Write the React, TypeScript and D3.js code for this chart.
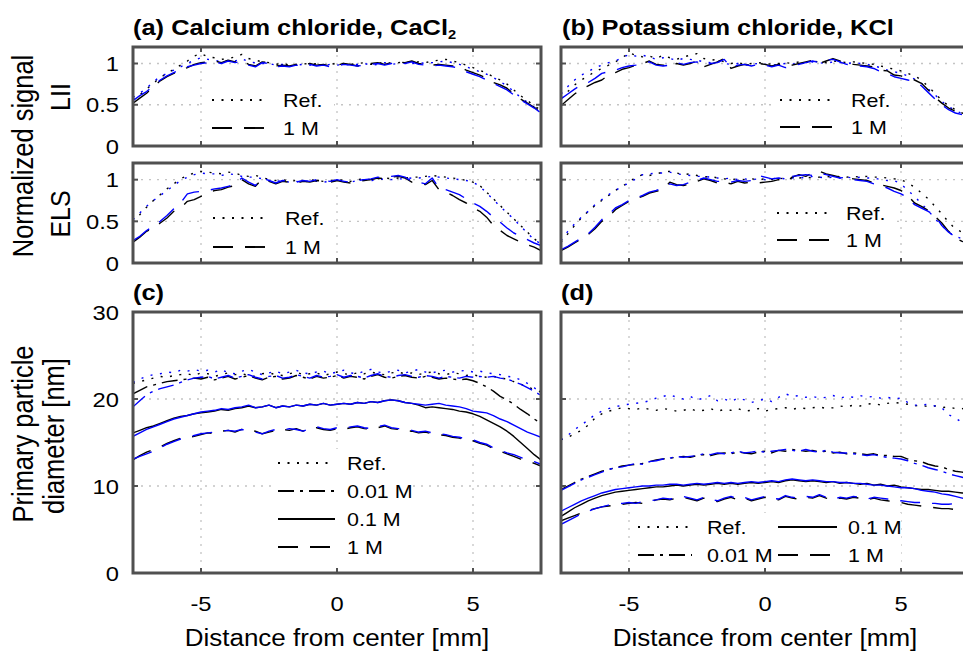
import React from 'react';
import * as d3 from 'd3';

// ---------- sample positions (mm from center) ----------
const POS_MM = [
  -7.5, -7.25, -7, -6.75, -6.5, -6.25, -6, -5.75, -5.5, -5.25,
  -5, -4.75, -4.5, -4.25, -4, -3.75, -3.5, -3.25, -3, -2.75,
  -2.5, -2.25, -2, -1.75, -1.5, -1.25, -1, -0.75, -0.5, -0.25,
  0, 0.25, 0.5, 0.75, 1, 1.25, 1.5, 1.75, 2, 2.25,
  2.5, 2.75, 3, 3.25, 3.5, 3.75, 4, 4.25, 4.5, 4.75,
  5, 5.25, 5.5, 5.75, 6, 6.25, 6.5, 6.75, 7, 7.25, 7.5,
];

// ---------- (a) CaCl2, LII ----------
const A_LII_REF_K = [0.56,0.62,0.69,0.76,0.83,0.88,0.93,0.98,1.03,1.09,1.12,1.08,1.07,1.05,1.06,1.08,1.11,1.06,1.04,1.02,1.01,0.99,1.00,0.98,0.99,1.00,0.99,1.00,0.98,1.00,0.99,1.00,0.99,1.00,1.01,0.99,1.00,1.02,1.00,1.01,1.02,1.01,1.02,1.01,1.03,1.04,1.05,1.03,1.01,0.98,0.95,0.92,0.88,0.84,0.80,0.75,0.68,0.61,0.55,0.49,0.43];
const A_LII_REF_B = [0.59,0.64,0.70,0.78,0.84,0.88,0.92,0.96,1.00,1.04,1.07,1.05,1.04,1.02,1.04,1.03,1.06,1.02,1.01,1.00,1.00,0.98,0.99,0.97,0.98,0.99,0.98,0.99,0.97,0.99,0.98,0.99,0.98,0.99,1.00,0.98,0.99,1.01,0.99,1.00,1.01,1.00,1.01,1.00,1.01,1.02,1.03,1.01,0.99,0.96,0.93,0.90,0.87,0.83,0.78,0.73,0.66,0.59,0.53,0.47,0.41];
const A_LII_1M_K = [0.52,0.58,0.64,0.72,0.79,0.84,0.88,0.92,0.95,0.99,1.01,1.02,1.03,1.01,1.04,1.02,1.04,0.99,0.97,1.02,1.01,0.97,0.98,0.97,0.99,0.98,1.00,0.98,0.99,0.97,0.98,1.00,0.99,0.97,0.98,1.00,1.01,0.99,1.01,1.02,1.01,1.03,1.00,0.99,0.98,0.99,0.98,0.97,0.96,0.92,0.89,0.86,0.82,0.77,0.74,0.70,0.63,0.57,0.52,0.47,0.41];
const A_LII_1M_B = [0.55,0.61,0.66,0.73,0.80,0.85,0.89,0.93,0.96,0.98,1.00,1.01,1.02,1.00,1.03,1.01,1.03,0.98,0.96,1.01,1.00,0.96,0.97,0.96,0.98,0.97,0.99,0.97,0.98,0.96,0.97,0.99,0.98,0.97,0.98,0.99,1.00,0.98,1.00,1.01,1.00,1.02,0.99,0.98,0.97,0.98,0.97,0.96,0.94,0.90,0.87,0.84,0.80,0.76,0.72,0.68,0.62,0.56,0.51,0.46,0.40];

// ---------- (a) CaCl2, ELS ----------
const A_ELS_REF_K = [0.49,0.58,0.67,0.75,0.82,0.89,0.95,1.01,1.05,1.08,1.10,1.09,1.08,1.07,1.09,1.08,1.05,1.04,1.05,1.03,1.00,0.99,1.00,0.98,0.99,0.98,1.00,0.99,0.98,0.99,1.00,0.99,0.98,1.00,1.01,1.00,1.01,1.02,1.01,1.02,1.02,1.03,1.03,1.04,1.05,1.04,1.03,1.02,1.01,0.99,0.97,0.93,0.85,0.77,0.69,0.61,0.53,0.45,0.37,0.29,0.23];
const A_ELS_REF_B = [0.52,0.60,0.68,0.75,0.81,0.87,0.93,0.99,1.03,1.06,1.08,1.07,1.07,1.05,1.07,1.06,1.04,1.03,1.03,1.01,0.99,0.98,0.99,0.97,0.98,0.97,0.99,0.98,0.97,0.98,0.99,0.98,0.97,0.99,1.00,0.99,1.00,1.01,1.00,1.01,1.01,1.02,1.02,1.03,1.04,1.03,1.02,1.01,1.00,0.99,0.97,0.92,0.84,0.76,0.68,0.60,0.53,0.44,0.36,0.28,0.23];
const A_ELS_1M_K = [0.25,0.31,0.38,0.42,0.48,0.54,0.62,0.66,0.74,0.76,0.80,0.84,0.87,0.88,0.91,0.93,1.00,0.95,0.92,1.01,0.98,0.95,0.98,0.97,0.96,0.98,0.97,0.99,0.98,0.97,0.99,0.97,0.96,0.98,0.99,1.00,1.02,1.01,1.03,1.04,1.02,0.97,0.96,0.94,0.99,0.88,0.85,0.81,0.76,0.72,0.66,0.62,0.55,0.45,0.39,0.33,0.29,0.25,0.22,0.19,0.15];
const A_ELS_1M_B = [0.27,0.32,0.39,0.44,0.50,0.57,0.65,0.72,0.83,0.85,0.86,0.87,0.89,0.90,0.92,0.94,1.02,0.97,0.93,1.02,0.99,0.96,0.99,0.98,0.97,0.99,0.98,1.00,0.99,0.98,1.00,0.98,0.97,0.99,1.00,1.01,1.03,1.02,1.04,1.05,1.03,0.98,0.97,0.95,1.02,0.90,0.88,0.85,0.82,0.77,0.72,0.68,0.62,0.55,0.49,0.42,0.36,0.32,0.28,0.24,0.21];

// ---------- (b) KCl, LII ----------
const B_LII_REF_K = [0.58,0.66,0.74,0.80,0.85,0.90,0.94,0.98,1.02,1.07,1.13,1.10,1.08,1.09,1.06,1.10,1.07,1.05,1.08,1.10,1.12,1.06,1.04,1.05,1.02,1.00,1.01,0.99,1.00,1.01,1.00,0.99,1.00,1.01,1.00,1.02,1.01,1.03,1.02,1.01,1.03,1.02,1.01,1.02,1.01,1.00,0.99,0.97,0.95,0.93,0.91,0.88,0.85,0.80,0.72,0.64,0.55,0.49,0.44,0.40,0.37];
const B_LII_REF_B = [0.63,0.72,0.80,0.86,0.90,0.95,0.98,1.01,1.03,1.07,1.11,1.09,1.10,1.08,1.05,1.07,1.06,1.04,1.06,1.05,1.04,1.02,1.01,1.03,1.00,0.99,1.00,0.98,0.99,1.00,0.99,0.98,0.99,1.00,0.99,1.01,1.00,1.02,1.01,1.00,1.02,1.01,1.00,1.01,1.00,0.99,0.97,0.95,0.92,0.90,0.88,0.85,0.81,0.76,0.69,0.62,0.54,0.48,0.43,0.39,0.36];
const B_LII_1M_K = [0.49,0.56,0.63,0.69,0.73,0.77,0.80,0.86,0.89,0.93,0.95,0.98,1.00,1.03,0.99,0.98,0.96,1.00,0.98,1.00,1.03,0.96,0.99,1.02,1.06,0.94,0.97,0.99,0.98,1.00,0.99,0.97,0.99,0.96,0.98,1.00,1.02,1.04,1.00,1.03,1.06,1.03,1.00,0.99,0.98,0.97,0.96,0.92,0.91,0.86,0.85,0.82,0.80,0.76,0.68,0.59,0.52,0.46,0.42,0.39,0.36];
const B_LII_1M_B = [0.57,0.63,0.69,0.74,0.77,0.82,0.88,0.90,0.92,0.95,0.97,0.98,1.00,1.02,0.98,0.97,0.98,1.01,0.99,1.01,1.02,0.97,1.00,1.01,1.05,0.95,0.98,0.99,0.97,0.99,0.98,0.96,0.98,0.95,0.97,0.99,1.01,1.03,1.01,1.04,1.05,1.02,0.99,0.98,0.97,0.96,0.94,0.90,0.88,0.84,0.82,0.80,0.78,0.73,0.65,0.57,0.50,0.44,0.40,0.38,0.35];

// ---------- (b) KCl, ELS ----------
const B_ELS_REF_K = [0.25,0.35,0.45,0.54,0.62,0.69,0.75,0.81,0.87,0.92,0.97,1.03,1.06,1.05,1.07,1.09,1.10,1.08,1.06,1.07,1.05,1.03,1.04,1.02,1.01,1.00,1.01,1.00,1.01,1.00,1.01,1.00,1.01,1.02,1.01,1.02,1.03,1.02,1.03,1.04,1.03,1.04,1.03,1.04,1.03,1.04,1.03,1.03,1.02,1.01,1.00,0.96,0.91,0.84,0.77,0.68,0.59,0.49,0.41,0.37,0.33];
const B_ELS_REF_B = [0.27,0.38,0.47,0.55,0.62,0.70,0.76,0.82,0.87,0.92,0.96,1.01,1.06,1.07,1.08,1.08,1.09,1.07,1.06,1.05,1.04,1.04,1.03,1.02,1.01,1.02,1.00,1.01,1.00,1.01,1.00,1.01,1.02,1.01,1.02,1.03,1.02,1.04,1.03,1.02,1.03,1.02,1.03,1.02,1.03,1.02,1.02,1.00,0.99,0.99,0.95,0.87,0.80,0.71,0.63,0.53,0.45,0.37,0.32,0.29,0.26];
const B_ELS_1M_K = [0.15,0.19,0.24,0.29,0.34,0.41,0.50,0.55,0.64,0.69,0.74,0.77,0.80,0.84,0.86,0.88,0.97,0.94,0.93,0.95,0.98,1.01,0.99,0.96,0.97,0.95,0.98,0.96,0.97,0.96,0.97,0.98,1.00,0.99,1.03,1.06,1.04,1.08,1.10,1.07,1.05,1.03,1.02,1.01,1.00,0.99,0.96,0.94,0.92,0.90,0.87,0.81,0.72,0.68,0.63,0.56,0.48,0.38,0.30,0.26,0.23];
const B_ELS_1M_B = [0.16,0.20,0.25,0.30,0.35,0.43,0.52,0.58,0.66,0.70,0.75,0.78,0.81,0.85,0.87,0.90,0.95,0.93,0.94,0.97,0.99,1.02,1.00,0.98,0.98,0.97,0.99,0.98,0.99,1.05,1.03,1.01,1.02,1.01,1.04,1.05,1.06,1.05,1.08,1.06,1.04,1.02,1.03,1.00,0.99,0.98,0.95,0.93,0.90,0.86,0.83,0.78,0.70,0.66,0.62,0.57,0.45,0.37,0.31,0.27,0.24];

// ---------- (c) CaCl2, primary particle diameter [nm] ----------
const C_REF_K = [21.8,22.0,22.2,22.4,22.6,22.5,22.7,22.8,22.9,22.7,23.0,22.9,22.6,22.8,23.0,22.8,22.9,22.7,22.6,22.9,23.0,22.8,22.7,22.9,23.1,22.8,22.9,23.0,22.7,22.9,23.1,22.9,22.8,23.0,22.9,23.1,22.9,22.8,23.0,23.1,22.9,23.0,22.8,23.0,23.1,22.9,22.8,23.0,22.9,22.7,22.8,22.6,22.5,22.6,22.4,22.3,22.0,21.7,21.4,21.1,20.8];
const C_REF_B = [21.9,22.3,22.6,22.8,22.9,23.1,23.0,23.3,23.2,23.4,23.2,23.3,23.1,23.4,23.0,22.9,23.2,23.4,23.1,22.8,23.0,23.2,22.9,23.1,23.3,23.0,22.9,23.1,23.2,22.9,23.1,23.3,23.0,22.9,23.2,23.4,23.1,23.0,23.2,23.3,23.0,23.2,23.4,23.1,23.0,23.2,23.3,23.1,23.2,23.3,23.1,23.2,23.0,22.9,22.8,22.6,22.5,22.2,21.8,21.3,20.7];
const C_001_K = [20.6,21.0,21.4,21.6,21.8,22.0,22.1,22.2,22.3,22.4,22.3,22.5,22.2,22.4,22.6,22.3,22.5,22.7,22.4,22.2,22.5,22.6,22.3,22.4,22.7,22.5,22.3,22.6,22.4,22.5,22.7,22.4,22.6,22.5,22.3,22.6,22.8,22.5,22.4,22.6,22.7,22.5,22.4,22.6,22.5,22.3,22.4,22.3,22.2,22.3,22.1,21.8,21.4,20.9,20.3,19.9,19.4,18.8,18.3,17.7,17.2];
const C_001_B = [19.1,19.8,20.5,20.9,21.2,21.4,21.6,21.9,22.2,22.4,22.5,22.6,22.3,22.5,22.7,22.4,22.6,22.8,22.5,22.3,22.6,22.7,22.4,22.5,22.8,22.6,22.4,22.7,22.5,22.6,22.8,22.5,22.7,22.6,22.4,22.7,22.9,22.6,22.5,22.7,22.8,22.6,22.5,22.7,22.6,22.4,22.6,22.5,22.4,22.6,22.5,22.6,22.5,22.6,22.4,22.3,22.0,21.7,21.3,20.9,20.4];
const C_01_K = [16.1,16.4,16.7,16.9,17.2,17.5,17.8,18.0,18.1,18.3,18.4,18.5,18.6,18.8,18.7,18.9,19.0,19.2,19.0,19.1,19.3,19.0,19.2,19.1,19.3,19.2,19.4,19.3,19.5,19.3,19.4,19.5,19.4,19.6,19.5,19.7,19.6,19.8,19.9,19.8,19.6,19.5,19.3,19.0,19.1,19.0,18.9,18.8,18.6,18.5,18.3,18.0,17.6,17.2,16.8,16.3,15.7,15.0,14.3,13.6,13.0];
const C_01_B = [15.7,16.1,16.5,16.8,17.1,17.4,17.7,17.9,18.1,18.3,18.5,18.6,18.7,18.9,18.8,19.0,19.1,19.3,19.0,19.1,19.3,19.0,19.2,19.1,19.3,19.2,19.4,19.3,19.5,19.3,19.4,19.5,19.4,19.6,19.5,19.7,19.6,19.8,19.9,19.8,19.6,19.5,19.4,19.3,19.4,19.5,19.3,19.2,19.1,18.9,18.6,18.5,18.4,18.1,17.7,17.4,17.0,16.6,16.2,15.9,15.6];
const C_1M_K = [13.0,13.5,13.9,14.2,14.5,14.9,15.2,15.5,15.6,15.7,15.9,16.1,16.0,16.3,16.4,16.2,16.5,16.4,16.3,16.0,16.2,16.4,16.5,16.4,16.6,16.3,16.5,16.7,16.5,16.4,16.6,16.5,16.7,16.8,16.6,16.5,16.7,16.9,16.6,16.5,16.4,16.3,16.1,16.2,16.0,15.9,15.8,15.6,15.5,15.3,15.2,14.9,14.7,14.3,14.0,13.7,13.4,13.1,12.9,12.6,12.3];
const C_1M_B = [13.1,13.4,13.7,14.0,14.4,14.8,15.1,15.4,15.6,15.8,16.0,16.1,16.2,16.3,16.4,16.3,16.5,16.3,16.2,16.0,16.3,16.5,16.4,16.6,16.5,16.3,16.6,16.8,16.6,16.5,16.7,16.6,16.8,16.9,16.7,16.6,16.8,17.0,16.7,16.6,16.5,16.4,16.2,16.3,16.1,16.0,15.9,15.7,15.6,15.4,15.3,15.0,14.8,14.4,14.1,13.8,13.6,13.3,13.0,12.8,12.5];

// ---------- (d) KCl, primary particle diameter [nm] ----------
const D_REF_K = [15.3,15.6,16.0,16.4,17.0,17.8,18.3,18.6,18.8,19.0,18.9,18.8,19.0,18.8,18.7,18.9,18.8,18.6,18.7,18.9,18.6,18.7,18.9,18.6,18.8,18.7,18.9,18.6,18.7,18.9,18.6,18.8,18.9,19.0,18.8,19.0,18.9,19.0,19.1,18.9,19.0,19.2,19.1,19.3,19.2,19.4,19.5,19.3,19.5,19.6,19.5,19.4,19.2,19.3,19.1,19.2,19.0,19.1,18.9,18.9,18.7];
const D_REF_B = [15.3,15.8,16.5,17.0,17.6,18.2,18.6,18.9,19.1,19.3,19.4,19.5,19.6,19.8,20.1,20.3,20.5,20.2,20.0,20.3,19.9,20.1,20.4,19.8,20.0,19.7,20.1,19.9,19.6,19.8,20.0,19.7,20.2,20.6,20.3,20.4,20.2,20.3,20.1,20.2,20.4,20.1,20.3,20.2,20.4,20.2,20.3,20.1,20.2,20.0,20.1,19.6,19.3,19.3,19.4,19.2,19.0,18.2,17.8,17.3,16.9];
const D_001_K = [9.6,10.0,10.4,10.8,11.1,11.4,11.7,11.9,12.1,12.3,12.4,12.5,12.6,12.8,13.0,13.1,13.2,13.3,13.4,13.3,13.5,13.6,13.5,13.7,13.8,13.7,13.9,13.8,13.7,13.9,14.0,13.8,14.1,14.0,14.2,14.1,14.0,14.1,13.9,14.0,13.8,13.9,13.7,13.8,13.7,13.6,13.7,13.5,13.5,13.4,13.4,13.1,12.9,12.8,12.5,12.3,12.2,11.9,11.7,11.6,11.4];
const D_001_B = [9.5,9.9,10.3,10.7,11.0,11.3,11.6,11.9,12.1,12.2,12.4,12.6,12.5,12.8,12.9,13.1,13.2,13.4,13.3,13.4,13.5,13.7,13.6,13.8,13.7,13.8,14.0,13.8,13.9,14.0,13.9,14.0,14.1,14.2,14.1,14.0,14.2,14.0,13.9,14.1,13.9,13.8,13.8,13.7,13.6,13.5,13.6,13.4,13.3,13.2,13.1,12.9,12.6,12.4,12.1,11.9,11.7,11.4,11.2,11.0,10.8];
const D_01_K = [6.5,7.0,7.5,7.9,8.3,8.6,8.9,9.1,9.3,9.4,9.5,9.6,9.7,9.8,9.9,9.9,10.0,10.1,10.0,10.1,10.2,10.1,10.2,10.3,10.2,10.3,10.2,10.3,10.4,10.3,10.4,10.5,10.4,10.6,10.7,10.6,10.5,10.6,10.5,10.4,10.5,10.3,10.4,10.3,10.2,10.3,10.1,10.2,10.0,10.1,9.9,9.8,9.7,9.6,9.6,9.5,9.4,9.4,9.3,9.2,9.1];
const D_01_B = [7.1,7.5,7.9,8.3,8.6,8.9,9.2,9.4,9.6,9.7,9.8,9.9,10.0,10.0,10.1,10.1,10.2,10.2,10.1,10.2,10.3,10.2,10.3,10.4,10.3,10.4,10.3,10.4,10.5,10.4,10.5,10.6,10.5,10.7,10.8,10.7,10.6,10.7,10.6,10.5,10.5,10.4,10.4,10.3,10.3,10.2,10.1,10.1,10.0,9.9,9.8,9.8,9.7,9.5,9.4,9.3,9.1,9.0,8.8,8.6,8.5];
const D_1M_K = [6.0,6.3,6.6,6.9,7.2,7.4,7.6,7.7,7.8,7.9,8.0,8.1,8.0,8.2,8.4,8.5,8.4,8.6,8.7,8.5,8.3,8.6,8.4,8.2,8.5,8.7,8.4,8.6,8.3,8.5,8.7,8.5,8.4,8.8,8.6,8.5,8.7,8.6,8.9,8.6,8.4,8.6,8.5,8.7,8.6,8.4,8.6,8.4,8.3,8.2,8.1,7.9,7.8,7.7,7.6,7.5,7.4,7.4,7.3,7.2,7.1];
const D_1M_B = [5.6,6.0,6.4,6.8,7.1,7.4,7.6,7.8,7.9,8.0,8.1,8.0,8.2,8.3,8.4,8.6,8.5,8.6,8.8,8.6,8.4,8.7,8.5,8.3,8.6,8.8,8.5,8.7,8.4,8.6,8.8,8.6,8.5,8.9,8.7,8.6,8.8,8.7,9.0,8.7,8.5,8.7,8.6,8.8,8.7,8.5,8.7,8.6,8.5,8.4,8.3,8.2,8.1,8.1,8.0,8.0,7.9,7.9,8.0,7.9,7.9];

// ---------- ticks / labels ----------
const X_TICKS = [-5, 0, 5];
const SIGNAL_TICKS = [0, 0.5, 1];
const DIAM_TICKS = [0, 10, 20, 30];
const SIGNAL_GRID = [0.5, 1];
const DIAM_GRID = [10, 20];

// ---------- styling ----------
const FONT = "'Liberation Sans', Arial, Helvetica, sans-serif";
const SX = 1.13;
const FRAME = '#505050';
const GRID = '#c4c4c4';
const BLACK = '#000000';
const BLUE = '#0000ff';
const DASH: Record<string, string | undefined> = {
  dot: '2,7.5',
  dash: '20,12',
  dashdot: '16,6,3,6',
  solid: undefined,
};

type Kind = 'dot' | 'dash' | 'dashdot' | 'solid';
type Series = { values: number[]; color: string; kind: Kind };
type LegendEntry = { kind: Kind; label: string; x0: number; x1: number; y: number; tx: number };
type Legend = { box: [number, number, number, number]; entries: LegendEntry[] };

function T(props: {
  x: number; y: number; size: number; anchor?: string; weight?: string; rotate?: boolean; children: React.ReactNode;
}) {
  const { x, y, size, anchor = 'start', weight = 'normal', rotate = false, children } = props;
  const tf = `translate(${x},${y}) scale(${SX},1)` + (rotate ? ' rotate(-90)' : '');
  return (
    <text transform={tf} fontSize={size} textAnchor={anchor} fontWeight={weight} fontFamily={FONT} fill="#000">
      {children}
    </text>
  );
}

function Panel(props: {
  id: string; x0: number; top: number; bottom: number; yMax: number;
  yTicks: number[]; yGrid: number[]; showYLabels: boolean; showXLabels: boolean;
  series: Series[]; legend: Legend;
}) {
  const { id, x0, top, bottom, yMax, yTicks, yGrid, showYLabels, showXLabels, series, legend } = props;
  const W = 408;
  const x = d3.scaleLinear().domain([-7.5, 7.5]).range([x0, x0 + W]);
  const y = d3.scaleLinear().domain([0, yMax]).range([bottom, top]);
  const line = d3.line<number>().x((_, i) => x(POS_MM[i])).y((v) => y(v));
  const tl = 5;
  return (
    <g>
      <defs>
        <clipPath id={`clip-${id}`}>
          <rect x={x0} y={top} width={W} height={bottom - top} />
        </clipPath>
      </defs>
      {X_TICKS.map((t) => (
        <line key={`gx${t}`} x1={x(t)} x2={x(t)} y1={top} y2={bottom} stroke={GRID} strokeWidth={1.3} strokeDasharray="2,6" />
      ))}
      {yGrid.map((t) => (
        <line key={`gy${t}`} x1={x0} x2={x0 + W} y1={y(t)} y2={y(t)} stroke={GRID} strokeWidth={1.3} strokeDasharray="2,6" />
      ))}
      <g clipPath={`url(#clip-${id})`}>
        {series.map((s, i) => (
          <path key={i} d={line(s.values) || ''} fill="none" stroke={s.color} strokeWidth={1.4}
            strokeDasharray={DASH[s.kind]} strokeLinejoin="round" />
        ))}
      </g>
      <rect x={legend.box[0]} y={legend.box[1]} width={legend.box[2]} height={legend.box[3]} fill="#fff" />
      {legend.entries.map((e, i) => (
        <g key={`l${i}`}>
          <line x1={e.x0} x2={e.x1} y1={e.y} y2={e.y} stroke={BLACK} strokeWidth={1.9} strokeDasharray={DASH[e.kind]} />
          <T x={e.tx} y={e.y + 7} size={19}>{e.label}</T>
        </g>
      ))}
      {X_TICKS.map((t) => (
        <g key={`tx${t}`}>
          <line x1={x(t)} x2={x(t)} y1={bottom} y2={bottom - tl} stroke={FRAME} strokeWidth={2} />
          <line x1={x(t)} x2={x(t)} y1={top} y2={top + tl} stroke={FRAME} strokeWidth={2} />
        </g>
      ))}
      {yTicks.map((t) => (
        <g key={`ty${t}`}>
          <line x1={x0} x2={x0 + tl} y1={y(t)} y2={y(t)} stroke={FRAME} strokeWidth={2} />
          <line x1={x0 + W} x2={x0 + W - tl} y1={y(t)} y2={y(t)} stroke={FRAME} strokeWidth={2} />
        </g>
      ))}
      <rect x={x0} y={top} width={W} height={bottom - top} fill="none" stroke={FRAME} strokeWidth={3} />
      {showYLabels && yTicks.map((t) => (
        <T key={`yl${t}`} x={x0 - 14} y={y(t) + 7.5} size={21} anchor="end">{String(t)}</T>
      ))}
      {showXLabels && X_TICKS.map((t) => (
        <T key={`xl${t}`} x={x(t)} y={611} size={21} anchor="middle">{String(t)}</T>
      ))}
    </g>
  );
}

const L = 133;
const R = 561;
const LII = { top: 47, bottom: 146 };
const ELS = { top: 163, bottom: 263 };
const DIA = { top: 312, bottom: 573 };

function pair(k: number[], b: number[], kind: Kind): Series[] {
  return [
    { values: k, color: BLACK, kind },
    { values: b, color: BLUE, kind },
  ];
}

export default function App() {
  const twoEntry = (x0: number, x1: number, tx: number, y1: number, y2: number): LegendEntry[] => [
    { kind: 'dot', label: 'Ref.', x0, x1, y: y1, tx },
    { kind: 'dash', label: '1 M', x0, x1, y: y2, tx },
  ];
  return (
    <svg width={963} height={653} style={{ position: 'absolute', left: 0, top: 0, background: '#fff' }}>
      <rect x={0} y={0} width={963} height={653} fill="#fff" />
      <Panel id="aLII" x0={L} top={LII.top} bottom={LII.bottom} yMax={1.2} yTicks={SIGNAL_TICKS} yGrid={SIGNAL_GRID}
        showYLabels showXLabels={false}
        series={[...pair(A_LII_REF_K, A_LII_REF_B, 'dot'), ...pair(A_LII_1M_K, A_LII_1M_B, 'dash')]}
        legend={{ box: [203, 88, 131, 57], entries: twoEntry(212, 268, 283, 100, 128) }} />
      <Panel id="bLII" x0={R} top={LII.top} bottom={LII.bottom} yMax={1.2} yTicks={SIGNAL_TICKS} yGrid={SIGNAL_GRID}
        showYLabels={false} showXLabels={false}
        series={[...pair(B_LII_REF_K, B_LII_REF_B, 'dot'), ...pair(B_LII_1M_K, B_LII_1M_B, 'dash')]}
        legend={{ box: [773, 88, 128, 57], entries: twoEntry(780, 837, 851, 100, 127) }} />
      <Panel id="aELS" x0={L} top={ELS.top} bottom={ELS.bottom} yMax={1.2} yTicks={SIGNAL_TICKS} yGrid={SIGNAL_GRID}
        showYLabels showXLabels={false}
        series={[...pair(A_ELS_REF_K, A_ELS_REF_B, 'dot'), ...pair(A_ELS_1M_K, A_ELS_1M_B, 'dash')]}
        legend={{ box: [203, 203, 131, 59], entries: twoEntry(213, 270, 285, 218, 247) }} />
      <Panel id="bELS" x0={R} top={ELS.top} bottom={ELS.bottom} yMax={1.2} yTicks={SIGNAL_TICKS} yGrid={SIGNAL_GRID}
        showYLabels={false} showXLabels={false}
        series={[...pair(B_ELS_REF_K, B_ELS_REF_B, 'dot'), ...pair(B_ELS_1M_K, B_ELS_1M_B, 'dash')]}
        legend={{ box: [768, 200, 124, 56], entries: twoEntry(777, 833, 846, 213, 240) }} />
      <Panel id="cD" x0={L} top={DIA.top} bottom={DIA.bottom} yMax={30} yTicks={DIAM_TICKS} yGrid={DIAM_GRID}
        showYLabels showXLabels
        series={[
          ...pair(C_REF_K, C_REF_B, 'dot'), ...pair(C_001_K, C_001_B, 'dashdot'),
          ...pair(C_01_K, C_01_B, 'solid'), ...pair(C_1M_K, C_1M_B, 'dash'),
        ]}
        legend={{
          box: [273, 449, 137, 114],
          entries: [
            { kind: 'dot', label: 'Ref.', x0: 278, x1: 335, y: 463, tx: 347 },
            { kind: 'dashdot', label: '0.01 M', x0: 278, x1: 335, y: 491, tx: 347 },
            { kind: 'solid', label: '0.1 M', x0: 278, x1: 335, y: 519, tx: 347 },
            { kind: 'dash', label: '1 M', x0: 278, x1: 335, y: 547, tx: 347 },
          ],
        }} />
      <Panel id="dD" x0={R} top={DIA.top} bottom={DIA.bottom} yMax={30} yTicks={DIAM_TICKS} yGrid={DIAM_GRID}
        showYLabels={false} showXLabels
        series={[
          ...pair(D_REF_K, D_REF_B, 'dot'), ...pair(D_001_K, D_001_B, 'dashdot'),
          ...pair(D_01_K, D_01_B, 'solid'), ...pair(D_1M_K, D_1M_B, 'dash'),
        ]}
        legend={{
          box: [633, 513, 268, 59],
          entries: [
            { kind: 'dot', label: 'Ref.', x0: 638, x1: 692, y: 527, tx: 707 },
            { kind: 'solid', label: '0.1 M', x0: 778, x1: 837, y: 527, tx: 848 },
            { kind: 'dashdot', label: '0.01 M', x0: 638, x1: 692, y: 555, tx: 707 },
            { kind: 'dash', label: '1 M', x0: 778, x1: 837, y: 555, tx: 848 },
          ],
        }} />

      <T x={133} y={35} size={22.5} weight="bold">
        (a) Calcium chloride, CaCl<tspan fontSize={13} dy={4}>2</tspan>
      </T>
      <T x={562} y={35} size={22.5} weight="bold">(b) Potassium chloride, KCl</T>
      <T x={133} y={300} size={22.5} weight="bold">(c)</T>
      <T x={561} y={300} size={22.5} weight="bold">(d)</T>

      <T x={33} y={156} size={25.5} anchor="middle" rotate>Normalized signal</T>
      <T x={70} y={97} size={25} anchor="middle" rotate>LII</T>
      <T x={70} y={214} size={25} anchor="middle" rotate>ELS</T>
      <T x={33} y={434} size={25.5} anchor="middle" rotate>Primary particle</T>
      <T x={64} y={436} size={25.5} anchor="middle" rotate>diameter [nm]</T>
      <T x={337} y={646} size={23} anchor="middle">Distance from center [mm]</T>
      <T x={765} y={646} size={23} anchor="middle">Distance from center [mm]</T>
    </svg>
  );
}
